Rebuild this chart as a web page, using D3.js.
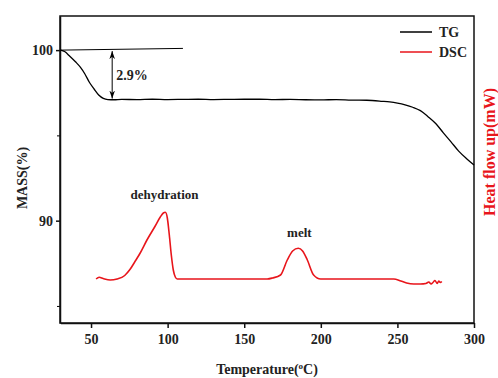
<!DOCTYPE html>
<html>
<head>
<meta charset="utf-8">
<script src="https://cdn.jsdelivr.net/npm/d3@7"></script>
<style>
  body { margin: 0; background: #fff; }
  text { font-family: "Liberation Serif", "DejaVu Serif", serif; font-weight: bold; }
</style>
</head>
<body>
<div id="chart"></div>
<script>
// TG curve (temperature in °C, mass in %)
const tgTemp = [30, 33, 36, 40, 43, 46, 49, 52, 55, 58, 61, 65, 70, 80, 90, 100, 110, 120, 130, 140, 150,
  160, 170, 180, 190, 200, 210, 220, 230, 240, 245, 250, 255, 260, 265, 270, 275, 280, 285, 290, 295, 300];
const tgMass = [100, 99.9, 99.65, 99.3, 99.0, 98.6, 98.1, 97.72, 97.37, 97.17, 97.1, 97.09, 97.11, 97.1, 97.12, 97.1,
  97.11, 97.12, 97.1, 97.11, 97.12, 97.12, 97.1, 97.11, 97.09, 97.08, 97.1, 97.07, 97.06, 97.0, 96.96, 96.89, 96.79,
  96.65, 96.45, 96.1, 95.7, 95.15, 94.62, 94.08, 93.65, 93.27];

// DSC curve (temperature in °C, heat flow, arbitrary units)
const dscTemp = [53.3, 55.3, 57.9, 62.5, 67, 72, 75.5, 78.5, 82.1, 86.5, 91.9, 95.2, 97.2, 98.5, 99.8, 101.1,
  102.4, 103.7, 105, 106.3, 120, 140, 165, 168.5, 173.7, 178.1, 181.6, 185.3, 188.1, 191.2, 195.3, 199.9, 220,
  247.6, 252.2, 256, 260.7, 265, 268.6, 270.5, 272, 273.2, 274.5, 276, 277, 278, 279];
const dscFlow = [0, 0.17, 0.05, -0.1, 0, 0.35, 0.97, 1.7, 2.6, 3.9, 5.3, 6.2, 6.6, 6.67, 6.1, 4.4,
  2.4, 0.9, 0.2, 0, 0, 0, 0, 0.1, 0.4, 1.9, 2.8, 3.07, 2.8, 1.9, 0.4, 0, 0,
  0, -0.2, -0.4, -0.5, -0.5, -0.45, -0.3, -0.5, -0.35, -0.15, -0.45, -0.2, -0.35, -0.25];

const xTicks = [50, 100, 150, 200, 250, 300];
const yTicks = [90, 100];
const yMinorTicks = [85, 95];

const legendItems = [
  { name: "TG", color: "#000" },
  { name: "DSC", color: "#e8151b" }
];

const width = 498, height = 378;
const margin = { top: 16, right: 24, bottom: 55, left: 60 };

const svg = d3.select("#chart").append("svg")
  .attr("width", width)
  .attr("height", height);

const x = d3.scaleLinear().domain([30, 300]).range([margin.left + 0.4, width - margin.right]);
const y = d3.scaleLinear().domain([84, 102]).range([height - margin.bottom, margin.top]);
const yDsc = d3.scaleLinear().domain([-4.4, 26.3]).range([height - margin.bottom, margin.top]);

const defs = svg.append("defs");
["start", "end"].forEach(k => {
  defs.append("marker")
    .attr("id", "arrow-" + k)
    .attr("viewBox", "0 0 10 10")
    .attr("refX", 10).attr("refY", 5)
    .attr("markerWidth", 8).attr("markerHeight", 8)
    .attr("orient", k === "start" ? "auto-start-reverse" : "auto")
    .attr("markerUnits", "userSpaceOnUse")
    .append("path")
    .attr("d", "M0,1.5 L10,5 L0,8.5 L3,5 Z")
    .attr("fill", "#000");
});

// axes
const xAxis = svg.append("g")
  .attr("transform", `translate(0,${height - margin.bottom})`)
  .call(d3.axisBottom(x).tickValues(xTicks).tickSize(5).tickSizeOuter(0));
const yAxis = svg.append("g")
  .attr("transform", `translate(${margin.left},0)`)
  .call(d3.axisLeft(y).tickValues(yTicks).tickSize(4).tickSizeOuter(0));
svg.append("g")
  .attr("transform", `translate(${margin.left},0)`)
  .call(d3.axisLeft(y).tickValues(yMinorTicks).tickSize(3).tickSizeOuter(0).tickFormat(""))
  .select(".domain").remove();

[xAxis, yAxis].forEach(g => {
  g.selectAll("text").attr("font-size", 14).attr("fill", "#222")
    .style("font-family", "Liberation Serif").style("font-weight", "bold");
  g.selectAll("line, path").attr("stroke", "#111").attr("stroke-width", 1.5);
});
xAxis.selectAll("text").attr("dy", "0.95em");

// frame
svg.append("rect")
  .attr("x", margin.left).attr("y", margin.top)
  .attr("width", width - margin.right - margin.left)
  .attr("height", height - margin.bottom - margin.top)
  .attr("fill", "none").attr("stroke", "#111").attr("stroke-width", 1.5);

// curves
const tgLine = d3.line().x(d => x(d[0])).y(d => y(d[1])).curve(d3.curveMonotoneX);
svg.append("path")
  .datum(tgTemp.map((t, i) => [t, tgMass[i]]))
  .attr("d", tgLine)
  .attr("fill", "none").attr("stroke", "#000").attr("stroke-width", 1.3);

const dscLine = d3.line().x(d => x(d[0])).y(d => yDsc(d[1])).curve(d3.curveMonotoneX);
svg.append("path")
  .datum(dscTemp.map((t, i) => [t, dscFlow[i]]))
  .attr("d", dscLine)
  .attr("fill", "none").attr("stroke", "#e8151b").attr("stroke-width", 1.6);

// mass-loss annotation
svg.append("line")
  .attr("x1", x(30)).attr("y1", y(100))
  .attr("x2", x(110)).attr("y2", y(100.1))
  .attr("stroke", "#000").attr("stroke-width", 1);
svg.append("line")
  .attr("x1", x(63.8)).attr("y1", y(100) + 1)
  .attr("x2", x(63.8)).attr("y2", y(97.1) - 1)
  .attr("stroke", "#000").attr("stroke-width", 1)
  .attr("marker-start", "url(#arrow-start)")
  .attr("marker-end", "url(#arrow-end)");
svg.append("text")
  .attr("x", x(63.8) + 4).attr("y", 80)
  .attr("font-size", 14).attr("fill", "#222")
  .text("2.9%");

// peak labels
svg.append("text").attr("x", x(98)).attr("y", 199)
  .attr("text-anchor", "middle").attr("font-size", 13).attr("fill", "#222")
  .text("dehydration");
svg.append("text").attr("x", x(186)).attr("y", 237)
  .attr("text-anchor", "middle").attr("font-size", 13).attr("fill", "#222")
  .text("melt");

// legend
const legend = svg.append("g");
legendItems.forEach((d, i) => {
  const ly = 32 + i * 20;
  legend.append("line")
    .attr("x1", 400).attr("x2", 432).attr("y1", ly).attr("y2", ly)
    .attr("stroke", d.color).attr("stroke-width", 1.5);
  legend.append("text")
    .attr("x", 439).attr("y", ly + 5)
    .attr("font-size", 14).attr("fill", "#222")
    .text(d.name);
});

// axis titles
svg.append("text")
  .attr("x", 267).attr("y", 374)
  .attr("text-anchor", "middle").attr("font-size", 14).attr("fill", "#222")
  .html('Temperature(<tspan font-size="9" dy="-5">o</tspan><tspan dy="5">C)</tspan>');

svg.append("text")
  .attr("transform", "translate(27,178) rotate(-90)")
  .attr("text-anchor", "middle").attr("font-size", 14).attr("font-weight", "bold").attr("fill", "#222")
  .text("MASS(%)");

svg.append("text")
  .attr("transform", "translate(495,152) rotate(-90)")
  .attr("text-anchor", "middle").attr("font-size", 16).attr("fill", "#e8151b")
  .text("Heat flow up(mW)");
</script>
</body>
</html>
